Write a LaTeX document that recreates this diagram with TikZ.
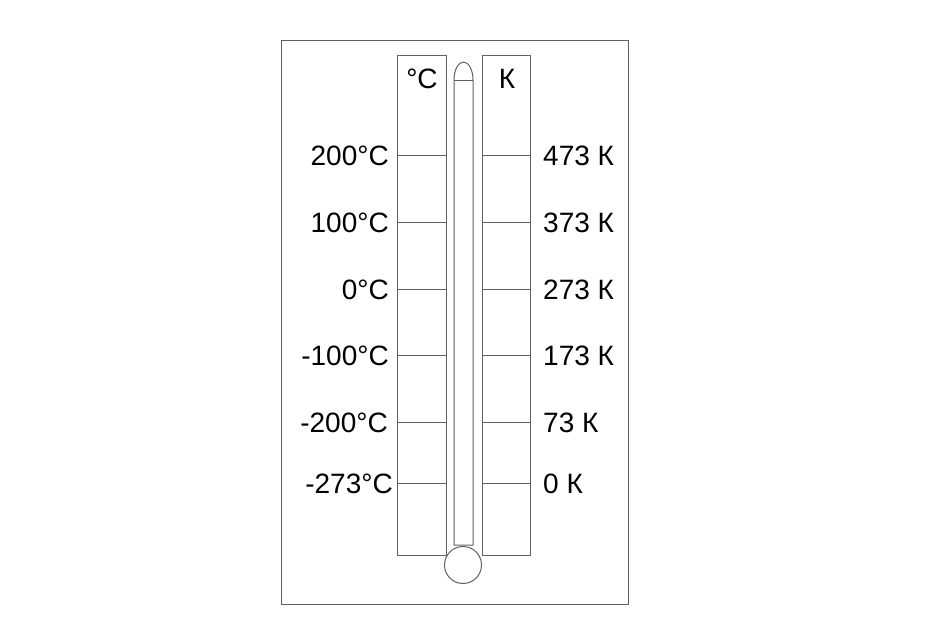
\documentclass[tikz,border=0pt]{standalone}
\usepackage{fontspec}
\setmainfont{Liberation Sans}
\begin{document}
\begin{tikzpicture}[x=1pt,y=-1pt,
  ln/.style={draw=black!62,line width=1pt},
  lbl/.style={font=\fontsize{28}{32}\selectfont,text=black,inner sep=0pt},
  lleft/.style={lbl,anchor=east},
  lright/.style={lbl,anchor=west}]
\useasboundingbox (0,0) rectangle (933,640);
\draw[ln] (281,40) rectangle (628,604);
% scale boxes
\draw[ln] (397,55) rectangle (446,555);
\draw[ln] (482,55) rectangle (530,555);
% tube
\draw[ln,fill=white] (454,545) -- (454,80) arc[start angle=180,end angle=0,x radius=9.5pt,y radius=18pt] -- (473,545) -- cycle;
\draw[ln] (454,80) -- (473,80);
% bulb
\node[ln,circle,minimum size=37pt,inner sep=0pt,fill=white] (bulb) at (463,565) {};
% headers
\node[lbl] (hc) at (422,79) {°C};
\node[lbl] (hk) at (507,79) {К};
% ticks and labels
\foreach \y/\c/\k/\cx [count=\i] in {155/200°C/473 К/389,222/100°C/373 К/389,289/0°C/273 К/389,355/-100°C/173 К/389,422/-200°C/73 К/388,483/-273°C/0 К/393}{
  \coordinate (cl\i) at (397,\y);
  \coordinate (cr\i) at (446,\y);
  \coordinate (kl\i) at (482,\y);
  \coordinate (kr\i) at (530,\y);
  \draw[ln] (cl\i) -- (cr\i);
  \draw[ln] (kl\i) -- (kr\i);
  \node[lleft] (c\i) at (\cx,\y+1) {\c};
  \node[lright] (k\i) at (543,\y+1) {\k};
}
\end{tikzpicture}
\end{document}
